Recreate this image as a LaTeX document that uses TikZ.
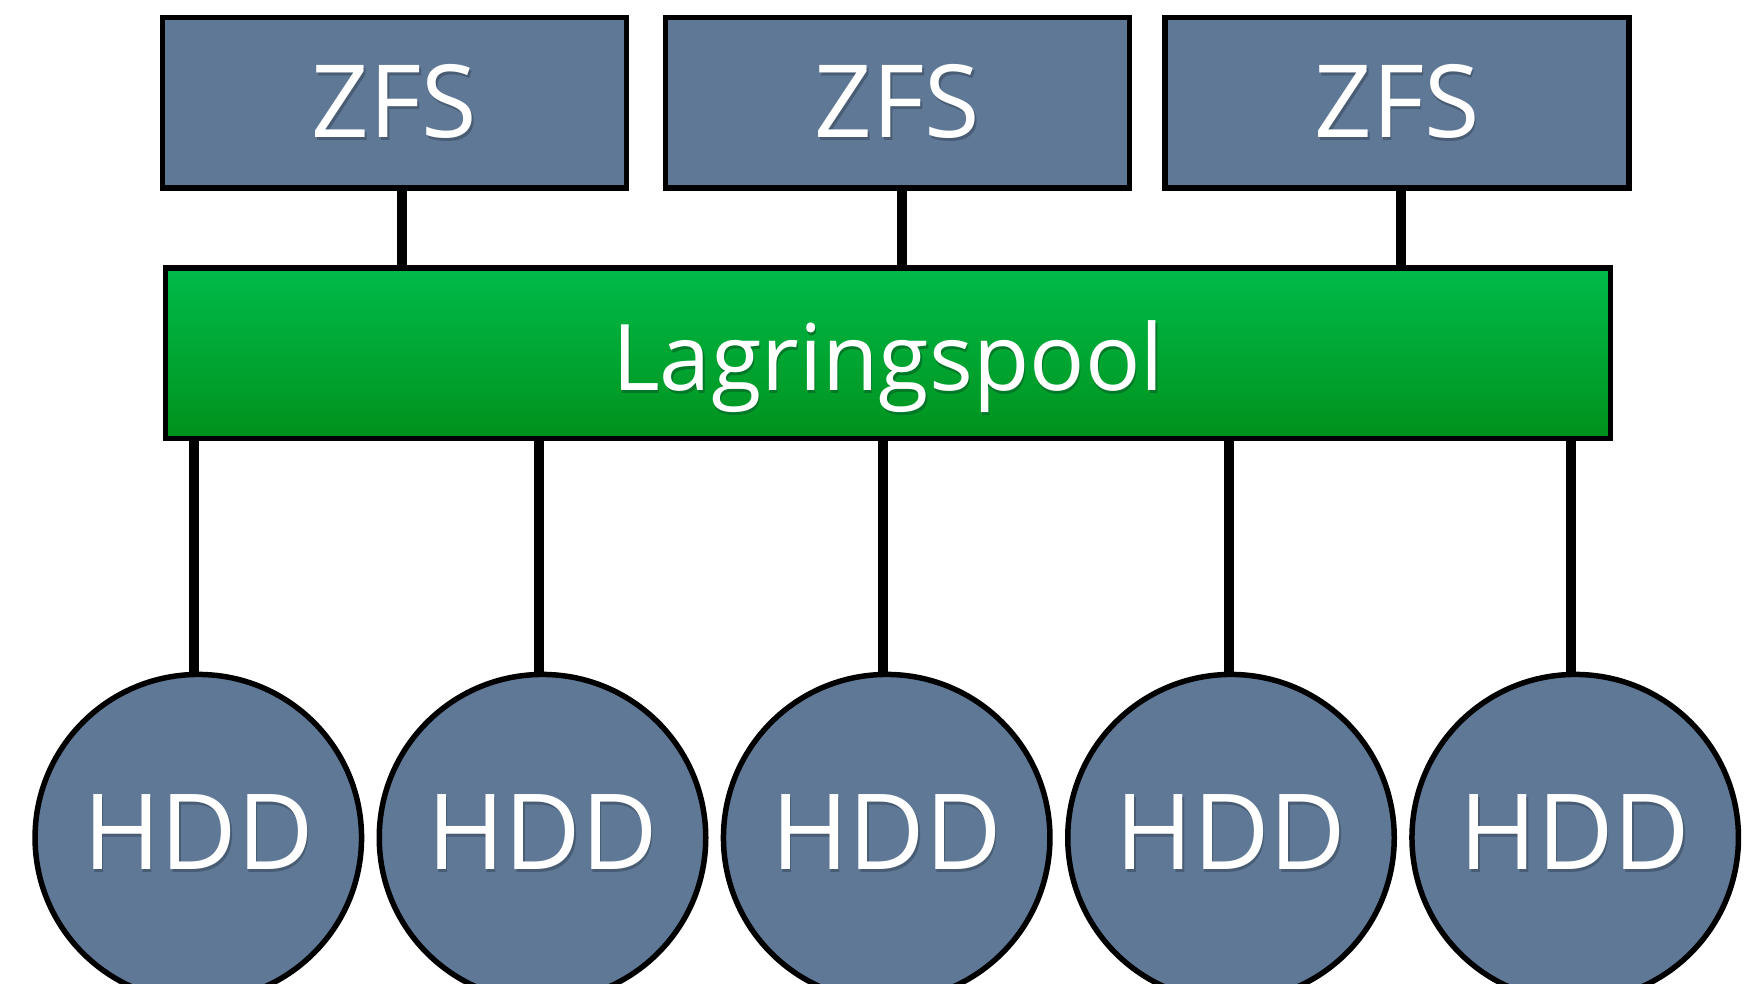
\documentclass[tikz,border=0pt]{standalone}
\usepackage{fontspec}
\setmainfont{Open Sans}
\definecolor{slate}{RGB}{95,120,150}
\definecolor{slatedark}{RGB}{72,92,116}
\definecolor{poolTop}{RGB}{0,187,74}
\definecolor{poolBottom}{RGB}{0,146,28}
\definecolor{pooldark}{RGB}{0,120,40}
% white label with a faint drop shadow
\newcommand\shadowlabel[2]{\leavevmode\rlap{\hspace{1.5pt}\raisebox{-2.5pt}{\textcolor{#1}{#2}}}#2}
\begin{document}
\begin{tikzpicture}[x=1pt,y=1pt]
\useasboundingbox (0,0) rectangle (1744,984);
\tikzset{
  base/.style={draw=black, line width=5.5pt, text=white, inner sep=0pt,
    font=\fontsize{101pt}{110pt}\selectfont},
  zfsbox/.style={base, rectangle, fill=slate, minimum width=464pt, minimum height=170.7pt,
    text height=70.3pt, text depth=0pt},
  poolbox/.style={base, rectangle, top color=poolTop, bottom color=poolBottom,
    minimum width=1445.4pt, minimum height=170.3pt,
    font=\fontsize{92pt}{100pt}\selectfont, text height=75.1pt, text depth=0pt},
  disk/.style={base, circle, fill=slate, minimum size=326.5pt,
    font=\fontsize{105pt}{112pt}\selectfont, text height=75pt, text depth=10.4pt},
  wire/.style={draw=black, line width=10pt},
}
% file systems on top
\node[zfsbox] (zfs1) at (394.5,881.15) {\shadowlabel{slatedark}{ZFS}};
\node[zfsbox] (zfs2) at (897.5,881.15) {\shadowlabel{slatedark}{ZFS}};
\node[zfsbox] (zfs3) at (1397.2,881.15) {\shadowlabel{slatedark}{ZFS}};
% the storage pool
\node[poolbox] (pool) at (888,630.85) {\shadowlabel{pooldark}{Lagringspool}};
% the disks
\foreach \i/\x in {1/198.3,2/542.5,3/886.7,4/1231,5/1575.2}
  \node[disk] (hdd\i) at (\x,146.3) {\shadowlabel{slatedark}{HDD}};
% links from file systems to pool
\draw[wire] ([xshift=7pt]zfs1.south) -- ([xshift=7pt]zfs1.south |- pool.north);
\draw[wire] ([xshift=4.5pt]zfs2.south) -- ([xshift=4.5pt]zfs2.south |- pool.north);
\draw[wire] ([xshift=4pt]zfs3.south) -- ([xshift=4pt]zfs3.south |- pool.north);
% links from pool to disks
\foreach \i/\d in {1/-4,2/-4,3/-4,4/-2,5/-4}
  \draw[wire] ([xshift=\d pt]hdd\i.north |- pool.south) -- ([xshift=\d pt]hdd\i.north);
\end{tikzpicture}
\end{document}
